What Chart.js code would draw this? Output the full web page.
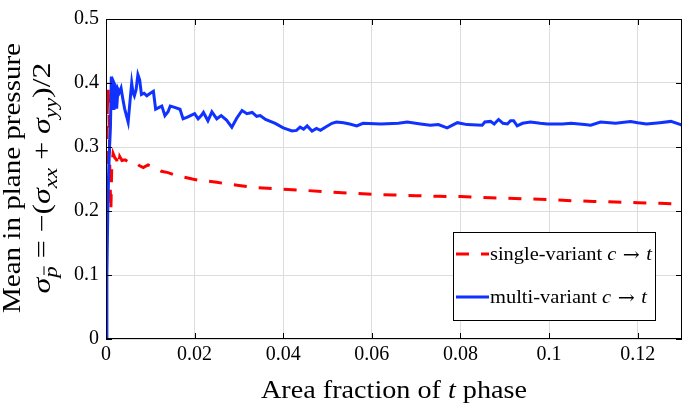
<!DOCTYPE html>
<html>
<head>
<meta charset="utf-8">
<script src="https://cdn.jsdelivr.net/npm/chart.js@4"></script>
<style>
  html, body { margin: 0; padding: 0; background: #fff; }
  #wrap { width: 685px; height: 406px; }
</style>
</head>
<body>
<div id="wrap"><canvas id="pressureChart" width="685" height="406"></canvas></div>
<script>
// area fraction (x) and mean in-plane pressure (y)
const multiX = [0, 0.0002, 0.0004, 0.0006, 0.0008, 0.0010, 0.0012, 0.0014, 0.0016, 0.0018, 0.0021, 0.0024, 0.0027, 0.0030, 0.0034, 0.0038, 0.0042, 0.0050, 0.0054, 0.0058, 0.0061, 0.0064, 0.0068, 0.0072, 0.0076, 0.0080, 0.0086, 0.0092, 0.0100, 0.0107, 0.0112, 0.0120, 0.0126, 0.0133, 0.0140, 0.0145, 0.0155, 0.0167, 0.0174, 0.0185, 0.0200, 0.0208, 0.0215, 0.0220, 0.0230, 0.0239, 0.0250, 0.0260, 0.0272, 0.0284, 0.0295, 0.0307, 0.0318, 0.0330, 0.0340, 0.0348, 0.0360, 0.0382, 0.0400, 0.0420, 0.0430, 0.0438, 0.0446, 0.0454, 0.0465, 0.0475, 0.0484, 0.0495, 0.0510, 0.0520, 0.0536, 0.0550, 0.0566, 0.0580, 0.0620, 0.0660, 0.0680, 0.0710, 0.0732, 0.0750, 0.0770, 0.0793, 0.0815, 0.0849, 0.0855, 0.0868, 0.0876, 0.0886, 0.0896, 0.0906, 0.0913, 0.0920, 0.0928, 0.0940, 0.0958, 0.0980, 0.0996, 0.1030, 0.1050, 0.1080, 0.1094, 0.1116, 0.1150, 0.1184, 0.1200, 0.1220, 0.1250, 0.1275, 0.1297, 0.1300];
const multiY = [0, 0.10, 0.20, 0.26, 0.30, 0.33, 0.41, 0.37, 0.36, 0.40, 0.395, 0.36, 0.39, 0.385, 0.392, 0.375, 0.36, 0.339, 0.37, 0.40, 0.385, 0.38, 0.39, 0.413, 0.405, 0.382, 0.384, 0.38, 0.384, 0.387, 0.359, 0.362, 0.364, 0.349, 0.355, 0.364, 0.362, 0.359, 0.344, 0.347, 0.352, 0.344, 0.349, 0.354, 0.341, 0.355, 0.344, 0.349, 0.342, 0.331, 0.345, 0.357, 0.352, 0.354, 0.348, 0.349, 0.343, 0.337, 0.330, 0.325, 0.326, 0.331, 0.328, 0.333, 0.325, 0.329, 0.326, 0.331, 0.337, 0.339, 0.338, 0.336, 0.333, 0.337, 0.336, 0.337, 0.339, 0.336, 0.334, 0.335, 0.330, 0.338, 0.335, 0.334, 0.339, 0.340, 0.336, 0.343, 0.337, 0.336, 0.341, 0.341, 0.333, 0.337, 0.339, 0.337, 0.336, 0.336, 0.337, 0.335, 0.334, 0.339, 0.337, 0.340, 0.338, 0.336, 0.338, 0.340, 0.335, 0.334];

const singleX = [0, 0.0001, 0.0002, 0.0003, 0.0005, 0.0007, 0.0009, 0.0011, 0.0013, 0.0016, 0.0020, 0.0024, 0.0028, 0.0031, 0.0036, 0.0043, 0.0052, 0.0066, 0.0075, 0.0084, 0.0095, 0.0110, 0.0125, 0.0140, 0.0152, 0.0160, 0.0175, 0.0195, 0.0210, 0.0225, 0.0250, 0.0275, 0.0300, 0.0330, 0.0375, 0.0430, 0.0500, 0.0550, 0.0600, 0.0650, 0.0700, 0.0750, 0.0800, 0.0850, 0.0900, 0.0950, 0.1000, 0.1050, 0.1100, 0.1150, 0.1200, 0.1250, 0.1300];
const singleY = [0, 0.15, 0.28, 0.36, 0.39, 0.34, 0.25, 0.20, 0.27, 0.29, 0.283, 0.28, 0.27, 0.285, 0.279, 0.28, 0.276, 0.276, 0.271, 0.268, 0.272, 0.268, 0.262, 0.260, 0.257, 0.255, 0.253, 0.250, 0.248, 0.247, 0.245, 0.242, 0.240, 0.237, 0.235, 0.233, 0.230, 0.228, 0.226, 0.225, 0.224, 0.223, 0.2225, 0.221, 0.220, 0.219, 0.218, 0.216, 0.215, 0.214, 0.213, 0.212, 0.211];

const xTickVals = [0, 0.02, 0.04, 0.06, 0.08, 0.1, 0.12];
const xTickLabels = ['0', '0.02', '0.04', '0.06', '0.08', '0.1', '0.12'];
const yTickVals = [0, 0.1, 0.2, 0.3, 0.4, 0.5];
const yTickLabels = ['0', '0.1', '0.2', '0.3', '0.4', '0.5'];

const RED = 'rgb(255,0,0)';
const BLUE = 'rgb(15,50,255)';
const SERIF = '"Liberation Serif", "DejaVu Serif", serif';
const ARROW_FONT = '"DejaVu Serif", serif';

// draws a run of text pieces: {t, it (italic), sub (subscript), bar (overbar), f (family)}
// fitW stretches the run horizontally to that width
function drawRich(ctx, segs, x, y, size, align, fitW) {
    const fontOf = s => (s.it ? 'italic ' : '') + Math.round(s.sub ? size * 0.7 : size) + 'px ' + (s.f || SERIF);
    let total = 0;
    segs.forEach(s => { ctx.font = fontOf(s); total += ctx.measureText(s.t).width; });
    const sx = fitW ? fitW / total : 1;
    const start = align === 'center' ? x - total * sx / 2 : x;
    ctx.save();
    ctx.translate(start, y);
    ctx.scale(sx, 1);
    ctx.textAlign = 'left';
    ctx.textBaseline = 'alphabetic';
    let cx = 0;
    segs.forEach(s => {
        ctx.font = fontOf(s);
        const w = ctx.measureText(s.t).width;
        const yy = s.sub ? size * 0.28 : 0;
        ctx.fillText(s.t, cx, yy + (s.dy || 0));
        if (s.bar) {
            ctx.beginPath();
            ctx.lineWidth = 1;
            ctx.moveTo(cx + w * 0.25, yy - size * 0.52);
            ctx.lineTo(cx + w * 1.0, yy - size * 0.52);
            ctx.stroke();
        }
        cx += w;
    });
    ctx.restore();
}

const framePlugin = {
    id: 'frame',
    afterDraw(chart) {
        const ctx = chart.ctx;
        const a = chart.chartArea;
        const xs = chart.scales.x, ys = chart.scales.y;
        ctx.save();
        ctx.strokeStyle = '#000';
        ctx.fillStyle = '#000';
        ctx.lineWidth = 1;
        // box
        ctx.strokeRect(a.left + 0.5, a.top + 0.5, a.right - a.left - 1, a.bottom - a.top - 1);
        // inward ticks
        ctx.beginPath();
        xTickVals.forEach(v => {
            const px = Math.round(xs.getPixelForValue(v)) + 0.5;
            ctx.moveTo(px, a.bottom); ctx.lineTo(px, a.bottom - 6);
            ctx.moveTo(px, a.top); ctx.lineTo(px, a.top + 6);
        });
        yTickVals.forEach(v => {
            const py = Math.round(ys.getPixelForValue(v)) + 0.5;
            ctx.moveTo(a.left, py); ctx.lineTo(a.left + 6, py);
            ctx.moveTo(a.right, py); ctx.lineTo(a.right - 6, py);
        });
        ctx.stroke();

        // x title
        drawRich(ctx, [{t: 'Area fraction of '}, {t: 't', it: true}, {t: ' phase'}], 394, 398, 25, 'center', 266);

        // y title, two lines rotated
        const cy = 178;
        ctx.save();
        ctx.translate(20, cy);
        ctx.rotate(-Math.PI / 2);
        drawRich(ctx, [{t: 'Mean in plane pressure'}], 0, 0, 25, 'center', 270);
        ctx.restore();
        ctx.save();
        ctx.translate(50, cy);
        ctx.rotate(-Math.PI / 2);
        drawRich(ctx, [
            {t: 'σ', it: true}, {t: 'p', it: true, sub: true, bar: true},
            {t: ' = −('}, {t: 'σ', it: true}, {t: 'xx', it: true, sub: true},
            {t: ' + '}, {t: 'σ', it: true}, {t: 'yy', it: true, sub: true}, {t: ')/2'}
        ], 0, 0, 25, 'center', 231);
        ctx.restore();

        // legend box
        const lx = 453, ly = 232, lw = 202, lh = 88;
        ctx.fillStyle = '#fff';
        ctx.fillRect(lx, ly, lw, lh);
        ctx.strokeStyle = '#000';
        ctx.lineWidth = 1;
        ctx.strokeRect(lx + 0.5, ly + 0.5, lw, lh);
        ctx.lineWidth = 3;
        ctx.strokeStyle = RED;
        ctx.setLineDash([13, 12]);
        ctx.beginPath(); ctx.moveTo(456, 254); ctx.lineTo(489, 254); ctx.stroke();
        ctx.setLineDash([]);
        ctx.strokeStyle = BLUE;
        ctx.beginPath(); ctx.moveTo(456, 297); ctx.lineTo(489, 297); ctx.stroke();
        ctx.fillStyle = '#000';
        ctx.strokeStyle = '#000';
        const arrow = {t: ' → ', f: ARROW_FONT, dy: 1};
        drawRich(ctx, [{t: 'single-variant '}, {t: 'c', it: true}, arrow, {t: 't', it: true}], 490, 260, 19, 'left', 162);
        drawRich(ctx, [{t: 'multi-variant '}, {t: 'c', it: true}, arrow, {t: 't', it: true}], 490, 303, 19, 'left', 157);
        ctx.restore();
    }
};

const ctx = document.getElementById('pressureChart').getContext('2d');
new Chart(ctx, {
    type: 'line',
    data: {
        datasets: [{
            label: 'single-variant c → t',
            data: singleX.map((x, i) => ({x: x, y: singleY[i]})),
            borderColor: RED,
            borderWidth: 3,
            borderDash: [13, 12],
            pointRadius: 0,
            tension: 0,
            order: 1
        }, {
            label: 'multi-variant c → t',
            data: multiX.map((x, i) => ({x: x, y: multiY[i]})),
            borderColor: BLUE,
            borderWidth: 3,
            pointRadius: 0,
            tension: 0,
            order: 0
        }]
    },
    options: {
        responsive: false,
        animation: false,
        layout: { padding: { top: 11, right: 3, left: 0, bottom: 0 } },
        plugins: { legend: { display: false }, tooltip: { enabled: false } },
        scales: {
            x: {
                type: 'linear',
                min: 0,
                max: 0.13,
                afterBuildTicks: scale => { scale.ticks = xTickVals.map(v => ({value: v})); },
                afterFit: scale => { scale.height = 67; },
                ticks: {
                    callback: (v, i) => xTickLabels[i],
                    font: { family: SERIF, size: 20 },
                    color: '#000',
                    padding: 4,
                    maxRotation: 0
                },
                grid: { color: '#dcdcdc', drawTicks: false },
                border: { display: false }
            },
            y: {
                min: 0,
                max: 0.5,
                afterBuildTicks: scale => { scale.ticks = yTickVals.map(v => ({value: v})); },
                afterFit: scale => { scale.width = 106; },
                ticks: {
                    callback: (v, i) => yTickLabels[i],
                    font: { family: SERIF, size: 20 },
                    color: '#000',
                    padding: 7
                },
                grid: { color: '#dcdcdc', drawTicks: false },
                border: { display: false }
            }
        }
    },
    plugins: [framePlugin]
});
</script>
</body>
</html>
